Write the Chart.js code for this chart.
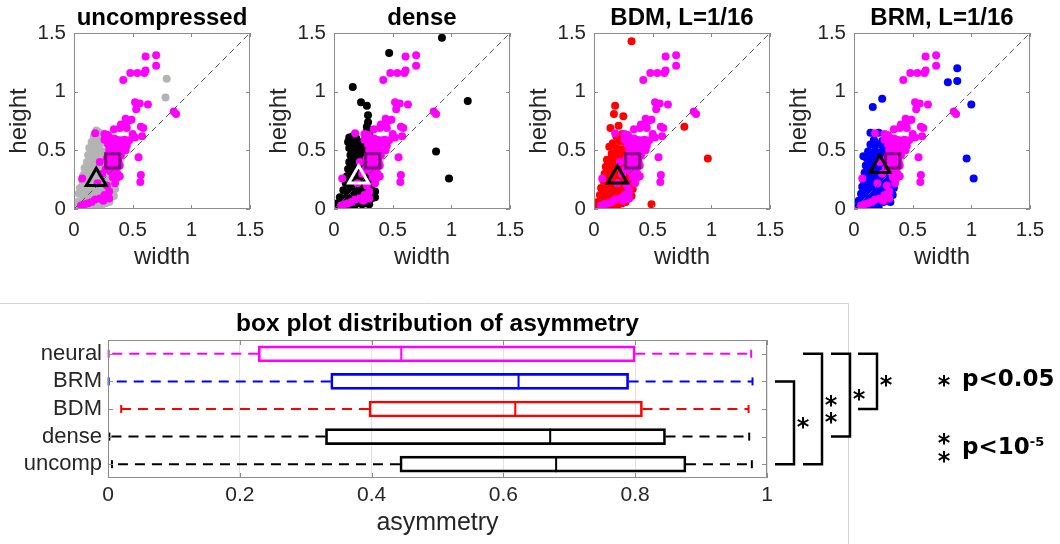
<!DOCTYPE html>
<html>
<head>
<meta charset="utf-8">
<title>asymmetry</title>
<script src="https://cdn.jsdelivr.net/npm/chart.js@4.4.1/dist/chart.umd.min.js"></script>
<style>
  html, body { margin: 0; padding: 0; background: #fff; }
  #page { position: relative; width: 1060px; height: 544px; overflow: hidden; }
  canvas { position: absolute; }
</style>
</head>
<body>
<div id="page">
  <canvas id="box" width="1060" height="244" style="left:0;top:300px"></canvas>
  <canvas id="sc0" width="280" height="280" style="left:0;top:0"></canvas>
  <canvas id="sc1" width="280" height="280" style="left:260px;top:0"></canvas>
  <canvas id="sc2" width="280" height="280" style="left:520px;top:0"></canvas>
  <canvas id="sc3" width="280" height="280" style="left:780px;top:0"></canvas>
</div>
<script>
// ---- scatter data: width / height of each receptive field ----
const neuralPts = [
  [0.61,1.30],[0.70,1.31],[0.70,1.22],[0.61,1.18],[0.60,1.16],[0.54,1.16],[0.48,1.16],[0.42,1.10],
  [0.63,0.89],[0.56,0.90],[0.52,0.91],[0.53,0.85],[0.85,0.83],[0.87,0.81],
  [0.44,0.77],[0.46,0.75],[0.49,0.76],[0.43,0.72],[0.40,0.72],[0.39,0.69],[0.45,0.69],[0.34,0.68],[0.57,0.70],[0.59,0.69],
  [0.50,0.64],[0.52,0.61],[0.58,0.62],[0.26,0.64],[0.29,0.63],[0.18,0.645],
  [0.26,0.59],[0.28,0.60],[0.31,0.60],[0.34,0.60],[0.36,0.59],[0.39,0.585],[0.43,0.59],[0.47,0.585],
  [0.41,0.56],[0.45,0.54],[0.44,0.50],[0.55,0.44],
  [0.29,0.55],[0.32,0.54],[0.35,0.555],[0.38,0.53],[0.30,0.50],[0.33,0.49],[0.36,0.505],[0.39,0.48],
  [0.31,0.46],[0.34,0.45],[0.37,0.44],[0.40,0.455],[0.28,0.43],[0.32,0.41],[0.35,0.40],[0.38,0.405],
  [0.30,0.37],[0.33,0.36],[0.36,0.35],[0.39,0.37],[0.31,0.32],[0.34,0.31],[0.37,0.30],[0.33,0.27],
  [0.36,0.26],[0.39,0.28],[0.35,0.22],[0.57,0.29],[0.565,0.23],
  [0.28,0.20],[0.30,0.15],[0.26,0.12],[0.30,0.09],[0.22,0.09],[0.25,0.07],[0.18,0.08],[0.15,0.06],
  [0.12,0.05],[0.09,0.04],[0.06,0.03],[0.07,0.26],[0.20,0.22],[0.24,0.30],[0.27,0.34],[0.22,0.40]
];

const uncompressedPts = [
  [0.79,1.11],[0.78,0.95],
  [0.19,0.67],[0.21,0.655],[0.17,0.62],[0.20,0.61],[0.23,0.60],[0.15,0.57],[0.18,0.56],[0.21,0.55],[0.24,0.565],
  [0.13,0.52],[0.16,0.51],[0.19,0.505],[0.22,0.50],[0.25,0.49],
  [0.12,0.46],[0.15,0.45],[0.18,0.44],[0.21,0.455],[0.24,0.44],[0.27,0.45],
  [0.11,0.40],[0.14,0.39],[0.17,0.40],[0.20,0.39],[0.23,0.40],[0.26,0.39],
  [0.09,0.35],[0.12,0.34],[0.15,0.355],[0.18,0.34],[0.21,0.35],[0.24,0.34],[0.27,0.345],[0.30,0.35],
  [0.08,0.29],[0.11,0.30],[0.14,0.29],[0.17,0.30],[0.20,0.29],[0.23,0.30],[0.26,0.29],[0.29,0.30],[0.32,0.29],
  [0.07,0.24],[0.10,0.24],[0.13,0.23],[0.16,0.24],[0.19,0.23],[0.22,0.24],[0.25,0.23],[0.28,0.24],[0.31,0.23],[0.34,0.24],
  [0.05,0.18],[0.08,0.18],[0.11,0.17],[0.14,0.18],[0.17,0.17],[0.20,0.18],[0.23,0.17],[0.26,0.18],[0.29,0.17],[0.32,0.18],[0.35,0.17],
  [0.04,0.13],[0.07,0.12],[0.10,0.11],[0.13,0.12],[0.16,0.11],[0.19,0.12],[0.22,0.11],[0.25,0.12],[0.28,0.11],[0.31,0.12],[0.34,0.11],
  [0.03,0.06],[0.06,0.06],[0.09,0.05],[0.12,0.06],[0.15,0.05],[0.18,0.06],[0.21,0.05],[0.24,0.06],[0.27,0.05],[0.30,0.06],
  [0.02,0.02],[0.05,0.01],[0.08,0.02],[0.11,0.01],[0.14,0.02],[0.17,0.01],[0.20,0.02],[0.23,0.01]
];

const densePts = [
  [0.92,1.46],[0.47,1.33],[0.16,1.04],[0.23,0.91],[0.28,0.88],[1.14,0.92],[0.87,0.49],[0.98,0.26],
  [0.29,0.80],[0.29,0.74],[0.28,0.70],[0.28,0.66],[0.30,0.64],[0.27,0.61],
  [0.13,0.61],[0.16,0.62],[0.19,0.60],[0.12,0.57],[0.15,0.56],[0.18,0.55],[0.21,0.57],[0.24,0.55],
  [0.13,0.52],[0.16,0.51],[0.19,0.50],[0.22,0.51],[0.25,0.50],[0.28,0.52],
  [0.14,0.46],[0.17,0.45],[0.20,0.46],[0.23,0.45],[0.26,0.46],[0.29,0.45],
  [0.13,0.40],[0.16,0.39],[0.19,0.40],[0.22,0.39],[0.25,0.40],[0.28,0.39],
  [0.12,0.34],[0.15,0.33],[0.18,0.34],[0.21,0.33],[0.24,0.34],[0.27,0.33],[0.30,0.34],
  [0.11,0.28],[0.14,0.27],[0.17,0.28],[0.20,0.27],[0.23,0.28],[0.26,0.27],[0.29,0.28],[0.32,0.27],
  [0.10,0.22],[0.13,0.21],[0.16,0.22],[0.19,0.21],[0.22,0.22],[0.25,0.21],[0.28,0.22],[0.31,0.21],[0.34,0.22],
  [0.08,0.16],[0.11,0.15],[0.14,0.16],[0.17,0.15],[0.20,0.16],[0.23,0.15],[0.26,0.16],[0.29,0.15],[0.32,0.16],[0.35,0.15],
  [0.05,0.10],[0.08,0.09],[0.11,0.10],[0.14,0.09],[0.17,0.10],[0.20,0.09],[0.23,0.10],[0.26,0.09],[0.29,0.10],[0.32,0.09],[0.35,0.10],
  [0.03,0.05],[0.06,0.04],[0.09,0.05],[0.12,0.04],[0.15,0.05],[0.18,0.04],[0.21,0.05],[0.24,0.04],[0.27,0.05],[0.30,0.04],
  [0.02,0.02],[0.05,0.01],[0.08,0.02],[0.11,0.01],[0.14,0.02],[0.17,0.01]
];

const bdmPts = [
  [0.32,1.43],[0.18,0.88],[0.17,0.81],[0.25,0.79],[0.14,0.69],[0.21,0.71],[0.77,0.70],[0.97,0.43],[0.49,0.04],
  [0.24,0.64],[0.27,0.62],[0.19,0.62],[0.22,0.58],[0.26,0.57],[0.16,0.56],[0.13,0.53],[0.19,0.52],[0.23,0.51],[0.27,0.50],
  [0.15,0.47],[0.18,0.46],[0.21,0.47],[0.24,0.46],[0.11,0.42],[0.14,0.41],[0.17,0.40],[0.20,0.41],[0.23,0.40],[0.26,0.41],
  [0.10,0.36],[0.13,0.35],[0.16,0.36],[0.19,0.35],[0.22,0.36],[0.25,0.35],[0.28,0.34],
  [0.09,0.30],[0.12,0.29],[0.15,0.30],[0.18,0.29],[0.21,0.30],[0.24,0.29],[0.27,0.30],[0.30,0.28],
  [0.08,0.24],[0.11,0.23],[0.14,0.24],[0.17,0.23],[0.20,0.24],[0.23,0.23],[0.26,0.24],[0.29,0.23],[0.32,0.22],
  [0.06,0.18],[0.09,0.17],[0.12,0.18],[0.15,0.17],[0.18,0.18],[0.21,0.17],[0.24,0.18],[0.27,0.17],[0.30,0.18],[0.33,0.17],
  [0.05,0.12],[0.08,0.11],[0.11,0.12],[0.14,0.11],[0.17,0.12],[0.20,0.11],[0.23,0.12],[0.26,0.11],[0.29,0.12],[0.32,0.11],
  [0.03,0.06],[0.06,0.05],[0.09,0.06],[0.12,0.05],[0.15,0.06],[0.18,0.05],[0.21,0.06],[0.24,0.05],[0.27,0.06],
  [0.02,0.02],[0.05,0.01],[0.08,0.02],[0.11,0.01],[0.14,0.02],[0.17,0.01],[0.20,0.02]
];

const brmPts = [
  [0.88,1.20],[0.80,1.08],[0.88,1.09],[0.24,0.94],[0.16,0.87],[1.00,0.89],[0.96,0.43],[1.02,0.26],
  [0.14,0.65],[0.21,0.65],[0.27,0.62],[0.30,0.60],[0.17,0.59],[0.24,0.58],[0.08,0.45],
  [0.14,0.55],[0.18,0.54],[0.22,0.55],[0.26,0.54],[0.30,0.55],
  [0.12,0.49],[0.15,0.48],[0.18,0.49],[0.21,0.48],[0.24,0.49],[0.27,0.48],[0.30,0.49],
  [0.11,0.43],[0.14,0.42],[0.17,0.43],[0.20,0.42],[0.23,0.43],[0.26,0.42],[0.29,0.43],
  [0.10,0.37],[0.13,0.36],[0.16,0.37],[0.19,0.36],[0.22,0.37],[0.25,0.36],[0.28,0.37],[0.31,0.36],
  [0.09,0.31],[0.12,0.30],[0.15,0.31],[0.18,0.30],[0.21,0.31],[0.24,0.30],[0.27,0.31],[0.30,0.30],
  [0.08,0.25],[0.11,0.24],[0.14,0.25],[0.17,0.24],[0.20,0.25],[0.23,0.24],[0.26,0.25],[0.29,0.24],[0.32,0.23],
  [0.07,0.19],[0.10,0.18],[0.13,0.19],[0.16,0.18],[0.19,0.19],[0.22,0.18],[0.25,0.19],[0.28,0.18],[0.31,0.17],[0.34,0.18],
  [0.06,0.13],[0.09,0.12],[0.12,0.13],[0.15,0.12],[0.18,0.13],[0.21,0.12],[0.24,0.13],[0.27,0.12],[0.30,0.11],[0.33,0.12],
  [0.04,0.07],[0.07,0.06],[0.10,0.07],[0.13,0.06],[0.16,0.07],[0.19,0.06],[0.22,0.07],[0.25,0.06],[0.28,0.07],[0.31,0.06],
  [0.03,0.02],[0.06,0.01],[0.09,0.02],[0.12,0.01],[0.15,0.02],[0.18,0.01],[0.21,0.02]
];

// mean width/height markers
const neuralMean = [0.33, 0.41];
const modelMeans = [[0.19, 0.25], [0.21, 0.27], [0.20, 0.27], [0.22, 0.36]];
const scatterTitles = ["uncompressed", "dense", "BDM, L=1/16", "BRM, L=1/16"];
const scatterTicks = [0, 0.5, 1, 1.5];

// ---- box plot data: asymmetry ----
const boxCats = ["neural", "BRM", "BDM", "dense", "uncomp"];
const whiskerLo = [0.001, 0.001, 0.020, 0.002, 0.006];
const q1 = [0.228, 0.338, 0.396, 0.330, 0.443];
const medians = [0.445, 0.623, 0.618, 0.671, 0.680];
const q3 = [0.800, 0.790, 0.811, 0.846, 0.877];
const whiskerHi = [0.976, 0.978, 0.972, 0.973, 0.977];
const boxTicks = [0, 0.2, 0.4, 0.6, 0.8, 1];

// significance brackets: [from, to, number of stars]
const sigPairs = [["BRM", "uncomp", 1], ["neural", "uncomp", 2], ["neural", "dense", 1], ["neural", "BDM", 1]];

const FONT = "'Liberation Sans', Arial, Helvetica, sans-serif";
const FONT_B = "'DejaVu Sans', Verdana, sans-serif";
const TXT = "#262626";
const toXY = (arr) => arr.map(([x, y]) => ({ x, y }));

function drawStar(ctx, x, y) {
  ctx.font = `bold 24px ${FONT_B}`;
  ctx.textAlign = "center";
  ctx.textBaseline = "alphabetic";
  const m = ctx.measureText("*");
  ctx.fillText("*", x, y + (m.actualBoundingBoxAscent - m.actualBoundingBoxDescent) / 2);
}

// axes box, inward ticks and the panel title
const framePlugin = {
  id: "frame",
  afterDraw(chart, args, opts) {
    const { ctx, chartArea: a, scales } = chart;
    ctx.save();
    ctx.strokeStyle = "#8c8c8c";
    ctx.lineWidth = 1;
    ctx.strokeRect(a.left + 0.5, a.top + 0.5, a.right - a.left - 1, a.bottom - a.top - 1);
    const t = opts.tickLen;
    ctx.beginPath();
    scales.x.ticks.forEach((tk, i) => {
      const px = Math.round(scales.x.getPixelForTick(i)) + 0.5;
      ctx.moveTo(px, a.bottom); ctx.lineTo(px, a.bottom - t);
      ctx.moveTo(px, a.top); ctx.lineTo(px, a.top + t);
    });
    scales.y.ticks.forEach((tk, i) => {
      const py = Math.round(scales.y.getPixelForTick(i)) + 0.5;
      ctx.moveTo(a.left, py); ctx.lineTo(a.left + t, py);
      ctx.moveTo(a.right, py); ctx.lineTo(a.right - t, py);
    });
    ctx.stroke();
    if (opts.title) {
      ctx.fillStyle = "#000";
      ctx.font = `bold ${opts.titleSize}px ${FONT}`;
      ctx.textAlign = "center";
      ctx.textBaseline = "alphabetic";
      ctx.fillText(opts.title, (a.left + a.right) / 2, opts.titleY);
    }
    ctx.restore();
  }
};

function scatterPanel(id, idx, pts, color, triColor) {
  new Chart(document.getElementById(id), {
    type: "scatter",
    data: {
      datasets: [
        { data: toXY([modelMeans[idx]]), pointStyle: "triangle", pointRadius: 11.5, pointBorderWidth: 3,
          pointBorderColor: triColor, pointBackgroundColor: "rgba(0,0,0,0)", order: 0 },
        { data: toXY([neuralMean]), pointStyle: "rect", pointRadius: 10, pointBorderWidth: 3,
          pointBorderColor: "#800080", pointBackgroundColor: "rgba(0,0,0,0)", order: 1 },
        { data: [{ x: 0, y: 0 }, { x: 1.5, y: 1.5 }], showLine: true, borderColor: "#555",
          borderWidth: 1, borderDash: [6, 4], pointRadius: 0, order: 2 },
        { data: toXY(neuralPts), pointRadius: 4, pointBorderWidth: 0, pointBackgroundColor: "#ff00ff", order: 3 },
        { data: toXY(pts), pointRadius: 4, pointBorderWidth: 0, pointBackgroundColor: color, order: 4 }
      ]
    },
    options: {
      responsive: false,
      animation: false,
      events: [],
      layout: { padding: { left: 0, top: 33, right: 30, bottom: 0 } },
      plugins: {
        legend: { display: false },
        tooltip: { enabled: false },
        frame: { title: scatterTitles[idx], titleY: 25, titleSize: 24, tickLen: 4 }
      },
      scales: {
        x: {
          type: "linear", min: 0, max: 1.5,
          afterBuildTicks: (s) => { s.ticks = scatterTicks.map((v) => ({ value: v })); },
          afterFit: (s) => { s.height = 71; },
          ticks: { font: { family: FONT, size: 20.5 }, color: TXT, padding: 9, maxRotation: 0,
                   autoSkip: false, callback: (v) => String(v) },
          grid: { display: false, drawTicks: false },
          border: { display: false },
          title: { display: true, text: "width", font: { family: FONT, size: 24 }, color: TXT,
                   padding: { top: 0, bottom: 8 } }
        },
        y: {
          type: "linear", min: 0, max: 1.5,
          afterBuildTicks: (s) => { s.ticks = scatterTicks.map((v) => ({ value: v })); },
          afterFit: (s) => { s.width = 74; },
          ticks: { font: { family: FONT, size: 20.5 }, color: TXT, padding: 8,
                   autoSkip: false, callback: (v) => String(v) },
          grid: { display: false, drawTicks: false },
          border: { display: false },
          title: { display: true, text: "height", font: { family: FONT, size: 24 }, color: TXT,
                   padding: { top: 5, bottom: 0 } }
        }
      }
    },
    plugins: [framePlugin]
  });
}

scatterPanel("sc0", 0, uncompressedPts, "#b4b4b4", "#000");
scatterPanel("sc1", 1, densePts, "#000", "#fff");
scatterPanel("sc2", 2, bdmPts, "#ff0000", "#000");
scatterPanel("sc3", 3, brmPts, "#0000ff", "#000");

// ---- box plot ----
const boxColors = ["#ff00ff", "#0000ff", "#ff0000", "#000000", "#000000"];

const whiskerPlugin = {
  id: "whiskers",
  afterDatasetsDraw(chart) {
    const { ctx, scales: { x, y } } = chart;
    const seg = (x1, y1, x2, y2) => { ctx.beginPath(); ctx.moveTo(x1, y1); ctx.lineTo(x2, y2); ctx.stroke(); };
    ctx.save();
    ctx.lineWidth = 2;
    boxCats.forEach((cat, i) => {
      const py = y.getPixelForValue(i);
      const lo = x.getPixelForValue(whiskerLo[i]);
      const b1 = x.getPixelForValue(q1[i]);
      const b3 = x.getPixelForValue(q3[i]);
      const hi = x.getPixelForValue(whiskerHi[i]);
      const med = x.getPixelForValue(medians[i]);
      ctx.strokeStyle = boxColors[i];
      ctx.setLineDash([10, 7]);
      seg(b1, py, lo, py);
      seg(b3, py, hi, py);
      ctx.setLineDash([]);
      seg(lo, py - 4, lo, py + 4);
      seg(hi, py - 4, hi, py + 4);
      seg(med, py - 8, med, py + 8);
    });
    ctx.restore();
  }
};

// significance brackets, the p-value key and the panel border
const bracketLeft = [775, 803, 831, 858];
const bracketWidth = 19;

const sigPlugin = {
  id: "sig",
  afterDraw(chart) {
    const { ctx, scales: { y } } = chart;
    ctx.save();
    ctx.strokeStyle = "#d4d4d4";
    ctx.lineWidth = 1;
    ctx.beginPath();
    ctx.moveTo(0, 3.5); ctx.lineTo(848.5, 3.5); ctx.lineTo(848.5, 244);
    ctx.stroke();

    ctx.strokeStyle = "#000";
    ctx.fillStyle = "#000";
    ctx.lineWidth = 2.5;
    sigPairs.forEach(([from, to, n], k) => {
      const y1 = y.getPixelForValue(boxCats.indexOf(from));
      const y2 = y.getPixelForValue(boxCats.indexOf(to));
      const l = bracketLeft[k], r = l + bracketWidth;
      ctx.beginPath();
      ctx.moveTo(l, y1); ctx.lineTo(r, y1); ctx.lineTo(r, y2); ctx.lineTo(l, y2);
      ctx.stroke();
      const mid = (y1 + y2) / 2;
      if (n === 1) drawStar(ctx, r + 9, mid);
      else { drawStar(ctx, r + 9, mid - 8.5); drawStar(ctx, r + 9, mid + 8.5); }
    });

    drawStar(ctx, 944, 81);
    drawStar(ctx, 944, 139);
    drawStar(ctx, 944, 157);
    ctx.textAlign = "left";
    ctx.textBaseline = "alphabetic";
    ctx.font = `bold 23px ${FONT_B}`;
    ctx.fillText("p<0.05", 962, 86);
    ctx.fillText("p<10", 962, 154);
    const w = ctx.measureText("p<10").width;
    ctx.font = `bold 13px ${FONT_B}`;
    ctx.fillText("-5", 962 + w, 146);
    ctx.restore();
  }
};

new Chart(document.getElementById("box"), {
  type: "bar",
  data: {
    labels: boxCats,
    datasets: [{
      data: q1.map((v, i) => [v, q3[i]]),
      backgroundColor: "rgba(0,0,0,0)",
      borderColor: boxColors,
      borderWidth: 2,
      borderSkipped: false,
      barThickness: 16
    }]
  },
  options: {
    indexAxis: "y",
    responsive: false,
    animation: false,
    events: [],
    layout: { padding: { left: 0, top: 40, right: 293, bottom: 0 } },
    plugins: {
      legend: { display: false },
      tooltip: { enabled: false },
      frame: { title: "box plot distribution of asymmetry", titleY: 31, titleSize: 24.5, tickLen: 5 }
    },
    scales: {
      x: {
        type: "linear", min: 0, max: 1,
        afterBuildTicks: (s) => { s.ticks = boxTicks.map((v) => ({ value: v })); },
        afterFit: (s) => { s.height = 66; },
        ticks: { font: { family: FONT, size: 21 }, color: TXT, padding: 5, maxRotation: 0,
                 autoSkip: false, callback: (v) => String(v) },
        grid: { color: "#e2e2e2", drawTicks: false },
        border: { display: false },
        title: { display: true, text: "asymmetry", font: { family: FONT, size: 25 }, color: TXT,
                 padding: { top: 0, bottom: 6 } }
      },
      y: {
        type: "category",
        afterFit: (s) => { s.width = 108; },
        ticks: { font: { family: FONT, size: 22 }, color: TXT, padding: 6, autoSkip: false },
        grid: { display: false, drawTicks: false },
        border: { display: false }
      }
    }
  },
  plugins: [whiskerPlugin, framePlugin, sigPlugin]
});
</script>
</body>
</html>
